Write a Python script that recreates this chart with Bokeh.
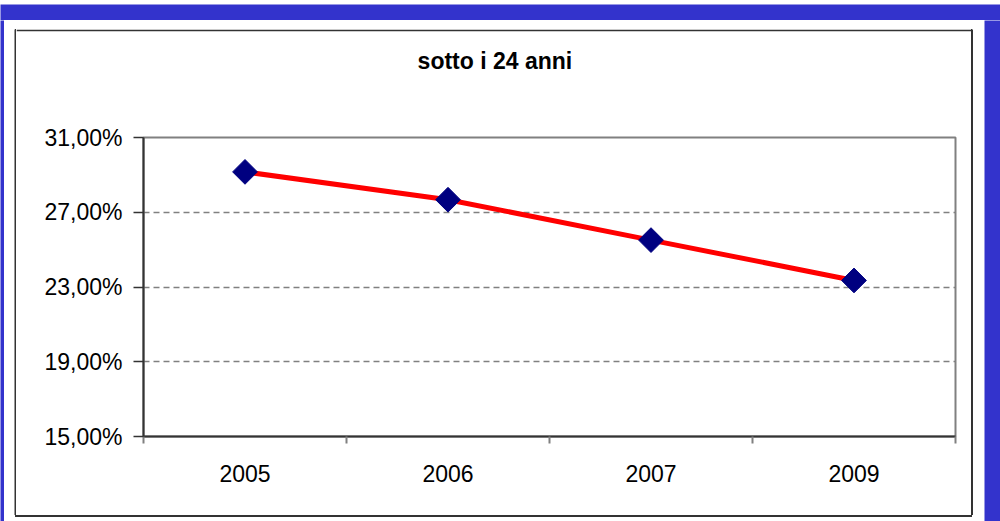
from bokeh.plotting import figure
from bokeh.layouts import row, column
from bokeh.models import Range1d, FixedTicker
from bokeh.core.properties import value
from bokeh.embed import file_html
from bokeh.resources import INLINE

# ---- data ----
years = ["2005", "2006", "2007", "2009"]
values = [29.16, 27.67, 25.51, 23.35]
y_ticks = [15, 19, 23, 27, 31]
y_labels = ["15,00%", "19,00%", "23,00%", "27,00%", "31,00%"]
title_text = "sotto i 24 anni"

xs = [i + 0.5 for i in range(len(years))]
boundaries = list(range(len(years) + 1))

BLUE = "#3333CC"
BLACK = "#333333"
WHITE = "white"


def no_align(f):
    try:
        f.frame_align = False
    except Exception:
        pass
    return f


def block(w, h, color, frame_color=None, **borders):
    f = figure(width=w, height=h, output_backend="svg", toolbar_location=None,
               tools="", title=None, min_border=0,
               x_axis_location=None, y_axis_location=None,
               x_range=Range1d(0, 1), y_range=Range1d(0, 1), **borders)
    f.background_fill_color = frame_color or color
    f.border_fill_color = color
    f.outline_line_color = None
    f.grid.visible = False
    return no_align(f)


# ---- title block (its 2px top border is the box's top line) ----
CW = 955  # chart inner width
TBH = 71
tb = block(CW, TBH, BLACK, frame_color=WHITE, min_border_top=2)
tb.text(x=[0.42], y=[0.57], text=[title_text], text_font=value("Liberation Sans"),
        text_font_size="23px", text_font_style="bold", text_color="black",
        text_align="left", text_baseline="middle")

# ---- main plot ----
PH = 415
p = figure(width=CW, height=PH, output_backend="svg", toolbar_location=None, tools="",
           title=None,
           x_range=Range1d(0, len(years)), y_range=Range1d(y_ticks[0], y_ticks[-1]),
           min_border_left=127, min_border_right=16,
           min_border_top=37, min_border_bottom=79)
no_align(p)
p.background_fill_color = WHITE
p.border_fill_color = WHITE
p.outline_line_color = "#808080"
p.outline_line_width = 2

p.yaxis.ticker = FixedTicker(ticks=y_ticks)
p.yaxis.major_label_overrides = {t: l for t, l in zip(y_ticks, y_labels)}
p.yaxis.axis_line_color = BLACK
p.yaxis.axis_line_width = 2
p.yaxis.major_tick_out = 10
p.yaxis.major_tick_in = 0
p.yaxis.major_tick_line_color = BLACK
p.yaxis.major_tick_line_width = 1.5
p.yaxis.minor_tick_line_color = None
p.yaxis.major_label_standoff = 11
p.yaxis.major_label_text_font = "Liberation Sans"
p.yaxis.major_label_text_font_size = "23px"
p.yaxis.major_label_text_color = "black"

p.xaxis.ticker = FixedTicker(ticks=xs, minor_ticks=boundaries)
p.xaxis.major_label_overrides = {x: y for x, y in zip(xs, years)}
p.xaxis.axis_line_color = BLACK
p.xaxis.axis_line_width = 2
p.xaxis.major_tick_out = 0
p.xaxis.major_tick_in = 0
p.xaxis.minor_tick_out = 7
p.xaxis.minor_tick_in = 0
p.xaxis.minor_tick_line_color = "#808080"
p.xaxis.minor_tick_line_width = 2
p.xaxis.major_label_standoff = 21
p.xaxis.major_label_text_font = "Liberation Sans"
p.xaxis.major_label_text_font_size = "23px"
p.xaxis.major_label_text_color = "black"

p.xgrid.visible = False
p.ygrid.ticker = FixedTicker(ticks=y_ticks)
p.ygrid.grid_line_color = "#808080"
p.ygrid.grid_line_width = 1.5
p.ygrid.grid_line_dash = "6 4"

p.line(xs, values, line_color="#FF0000", line_width=5)
p.scatter(xs, values, marker="square", size=17.5, angle=0.785398,
          fill_color="#000080", line_color="#000080")

# ---- black box around chart: side lines as blocks, bottom line as a CSS shadow ----
BOX_H = TBH + PH
chart = column(tb, p, spacing=0,
               styles={"box-shadow": "0px 1px 0px 1px #333333", "overflow": "visible"})
box = row(block(2, BOX_H, BLACK), chart, block(2, BOX_H, BLACK), spacing=0,
          styles={"overflow": "visible"})

# ---- white margin inside the blue frame ----
MID_H = 521 - 20
inner = column(block(980, 9, WHITE),
               row(block(10, BOX_H, WHITE), box, block(11, BOX_H, WHITE), spacing=0,
                   styles={"overflow": "visible"}),
               spacing=0, styles={"overflow": "visible"})

page = column(block(1000, 20, WHITE, frame_color=BLUE, min_border_top=4),
              row(block(4, MID_H, BLUE), inner, block(16, MID_H, BLUE), spacing=0),
              spacing=0)

open("out.html", "w").write(file_html(page, INLINE))
